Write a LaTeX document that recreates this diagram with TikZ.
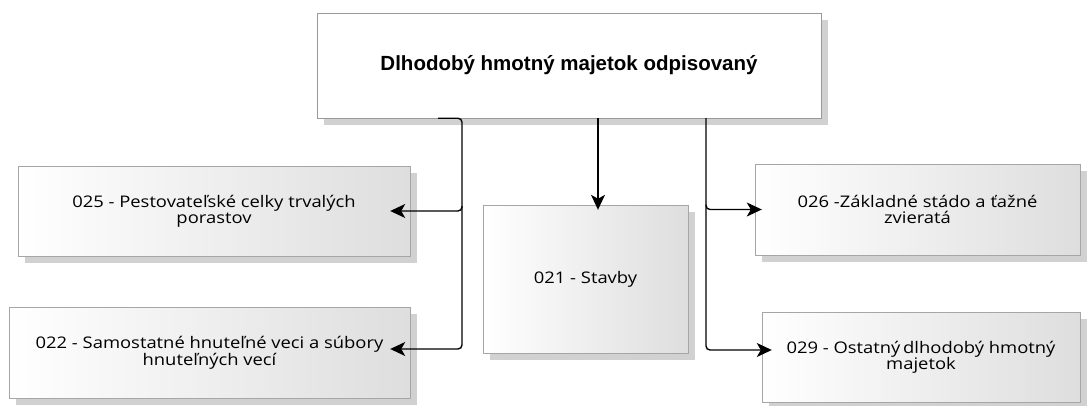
\documentclass[tikz,border=0pt]{standalone}
\usepackage{fontspec}
\setmainfont{Open Sans}
\newfontfamily\boxfont[FakeStretch=1.15]{Open Sans}
\newfontfamily\titlefont{Liberation Sans}
\usepackage{tikz}
\usetikzlibrary{calc}
\usetikzlibrary{arrows.meta}
\usetikzlibrary{shadows}
\tikzset{
	acct/.style={draw=black!35, left color=white, right color=black!13, inner sep=0pt, align=center,
		drop shadow={shadow xshift=7pt, shadow yshift=-7pt, fill=black, opacity=0.18},
		font=\boxfont\fontsize{16}{16}\selectfont},
	link/.style={line width=1.4pt, -{Stealth[length=15pt, width=14pt, inset=4pt]}}
}
\begin{document}
\begin{tikzpicture}[x=1pt, y=-1pt]
		\useasboundingbox (0,0) rectangle (1088,405);
		\node[draw=black!40, fill=white, minimum width=504pt, minimum height=105pt, drop shadow={shadow xshift=7pt, shadow yshift=-7pt, fill=black, opacity=0.18}, font=\titlefont\bfseries\fontsize{20.5}{24}\selectfont] (top) at (569,65.5) {Dlhodobý hmotný majetok odpisovaný};
		\node[acct, minimum width=392pt, minimum height=90pt] (n025) at (214,211) {025 - Pestovateľské celky trvalých\\porastov};
		\node[acct, minimum width=401pt, minimum height=91pt] (n022) at (209.5,352.5) {022 - Samostatné hnuteľné veci a súbory\\hnuteľných vecí};
		\node[acct, minimum width=205pt, minimum height=148pt] (n021) at (585.5,279) {021 - Stavby};
		\node[acct, minimum width=325pt, minimum height=91pt] (n026) at (917.5,209.5) {026 -Základné stádo a ťažné\\zvieratá};
		\node[acct, minimum width=318pt, minimum height=90pt] (n029) at (921,357) {029 - Ostatný\,dlhodobý hmotný\\majetok};
		\coordinate (lstub) at (438,0);
		\coordinate (lbus) at (462,0);
		\coordinate (cbus) at (598,0);
		\coordinate (rbus) at (706,0);
		\coordinate (e025) at ([xshift=-20pt]n025.east);
		\coordinate (e022) at ([xshift=-20pt, yshift=3.5pt]n022.east);
		\coordinate (e026) at ([xshift=7pt]n026.west);
		\coordinate (e029) at ([xshift=10pt, yshift=7pt]n029.west);
		\draw[link, rounded corners=4pt] (lstub |- top.south) -| (lbus |- e022) -- (e022);
		\draw[link, rounded corners=4pt] ($(lbus |- e025)+(0,-5)$) |- (e025);
		\draw[link] (cbus |- top.south) -- ($(cbus |- n021.north)+(0,5)$);
		\draw[link, rounded corners=4pt] (rbus |- top.south) |- (e029);
		\draw[link, rounded corners=4pt] ($(rbus |- e026)+(0,-5)$) |- (e026);
	\end{tikzpicture}
\end{document}
